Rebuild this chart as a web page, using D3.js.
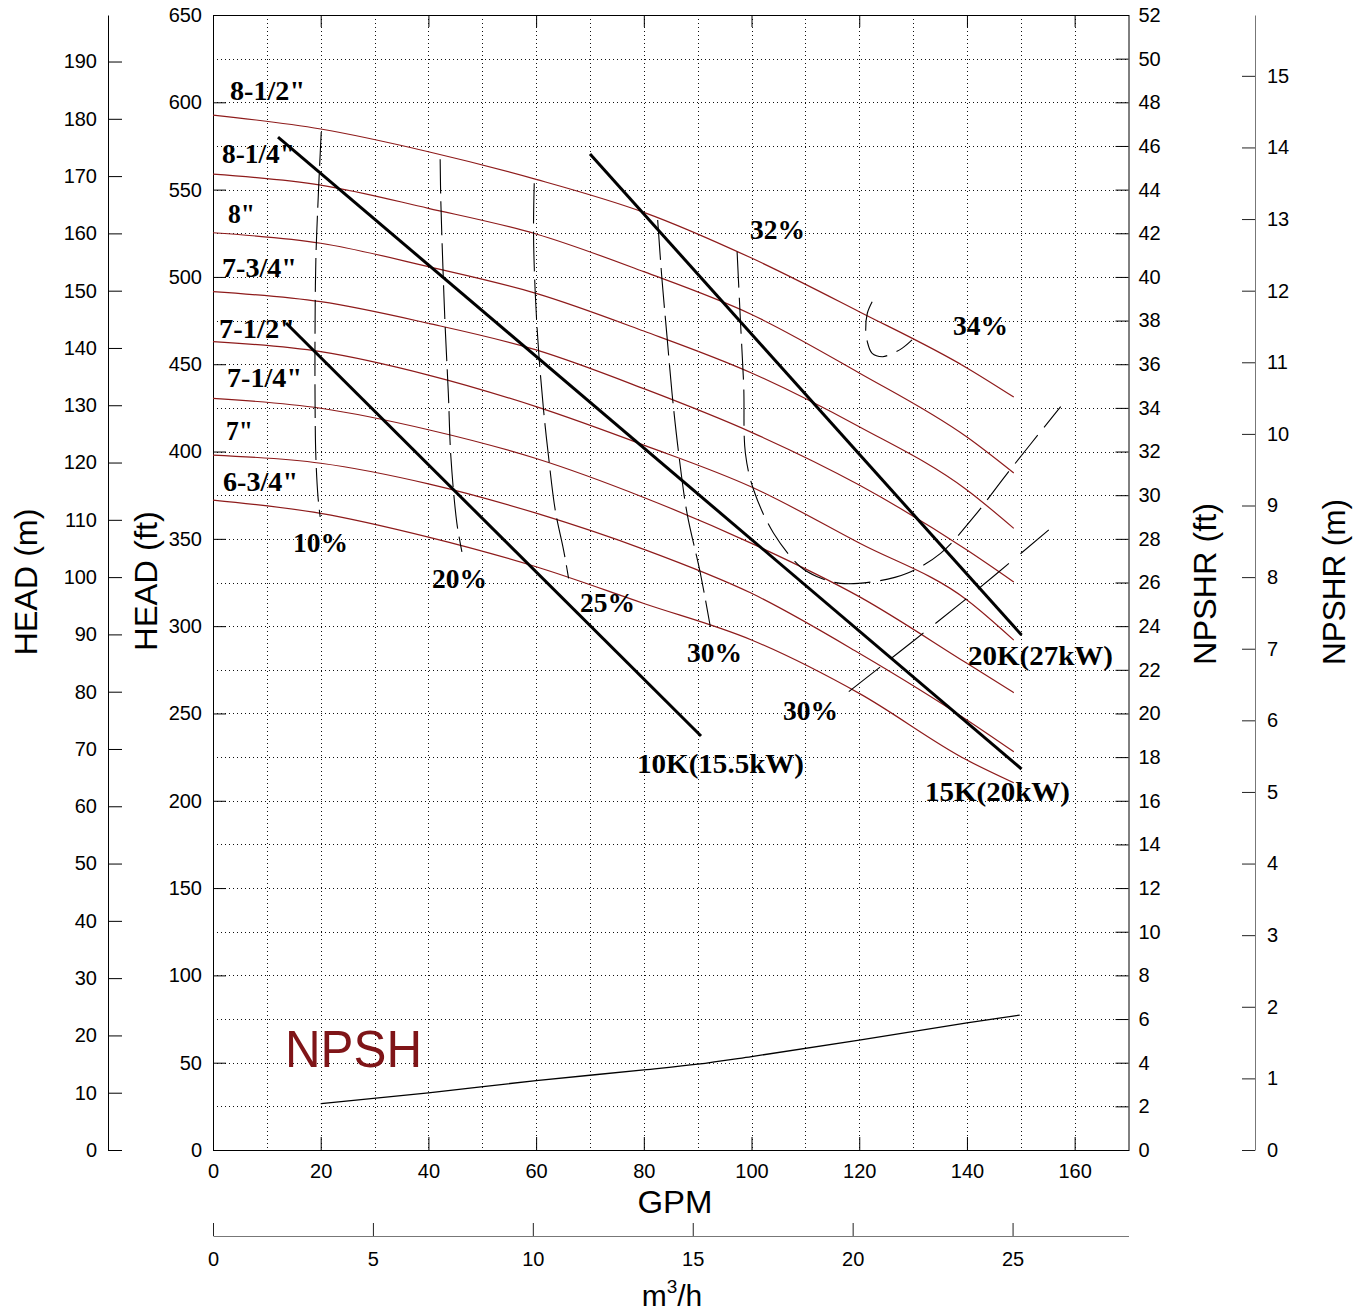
<!DOCTYPE html>
<html>
<head>
<meta charset="utf-8">
<script src="https://cdn.jsdelivr.net/npm/d3@7"></script>
<style>
  html, body { margin: 0; padding: 0; background: #fff; }
  svg { display: block; }
  .tick text { font-family: "Liberation Sans", Arial, sans-serif; font-size: 20px; fill: #000; }
</style>
</head>
<body>
<svg id="chart" width="1361" height="1313"></svg>
<script>
// ---------------- DATA ----------------
const gpmPoints = [0, 20, 40, 60, 80, 100, 120, 140, 148.7];
const impellerNames = ['8-1/2"', '8-1/4"', '8"', '7-3/4"', '7-1/2"', '7-1/4"', '7"', '6-3/4"'];
const head_8_1_2 = [592.7, 584.7, 571.7, 555.9, 537.0, 510.8, 480.1, 447.9, 431.2];
const head_8_1_4 = [558.9, 552.6, 539.3, 524.6, 503.0, 478.5, 445.0, 408.3, 387.7];
const head_8     = [525.3, 519.3, 505.9, 490.6, 469.0, 445.0, 414.2, 378.0, 356.0];
const head_7_3_4 = [491.6, 485.8, 473.4, 458.2, 436.0, 411.0, 380.8, 343.6, 325.3];
const head_7_1_2 = [463.0, 457.2, 443.8, 425.7, 403.7, 379.7, 347.6, 315.0, 292.0];
const head_7_1_4 = [430.5, 424.8, 412.5, 396.0, 373.7, 347.4, 316.9, 278.7, 261.9];
const head_7     = [398.0, 393.3, 381.5, 364.7, 344.0, 318.8, 284.5, 246.3, 228.1];
const head_6_3_4 = [372.2, 364.6, 351.0, 334.0, 313.0, 292.1, 261.5, 223.3, 210.3];
const impellerHeads = [head_8_1_2, head_8_1_4, head_8, head_7_3_4, head_7_1_2, head_7_1_4, head_7, head_6_3_4];
// label anchor (gpm, ft) for impeller names
const impellerLabelPos = [[3.16, 601.3], [1.67, 565.2], [2.79, 530.9], [1.67, 499.9], [1.11, 465.0], [2.60, 436.9], [2.41, 406.6], [1.86, 377.4]];

// motor power lines [gpm, ft]
const powerNames = ["10K(15.5kW)", "15K(20kW)", "20K(27kW)"];
const power10K = [[13.56, 473.6], [90.62, 237.1]];
const power15K = [[12.07, 580.1], [150.14, 218.2]];
const power20K = [[70.01, 570.4], [150.14, 294.9]];
const powerLabelPos = [[78.74, 215.9], [132.2, 199.9], [140.2, 277.8]];

// efficiency iso-lines [gpm, ft]
const eff10 = [[20.1, 583], [19.6, 550], [19.1, 510], [18.95, 470], [18.95, 430], [19.1, 397], [19.5, 374], [19.9, 362.5]];
const eff20 = [[42.18, 567.4], [42.3, 544], [42.69, 505.9], [43.11, 471.5], [43.7, 433.4], [44.17, 397], [45.29, 358.9], [46.22, 342.6]];
const eff25 = [[59.65, 553.6], [59.52, 525], [59.84, 490.6], [60.45, 458.2], [61.38, 423.8], [62.31, 397], [63.55, 366.5], [65.1, 343.6], [66.03, 327.4]];
const eff30a = [[82.57, 532.6], [83.38, 498.2], [84.31, 465.8], [85.24, 433.4], [86.47, 399], [88.03, 364.6], [90.5, 330.3], [92.36, 299.5]];
const eff32 = [[97.32, 514.4], [97.93, 475.4], [98.55, 437.1], [98.86, 399], [100.4, 378], [104.1, 353.2], [109.07, 334], [112.2, 328.3], [116.5, 324.5], [122.7, 325.5], [128.9, 330.3], [135.1, 341.7], [141.3, 362.7], [147.5, 387.5], [157.4, 425.7]];
const eff34 = [[122.4, 485.8], [121.5, 479.2], [121.2, 469.6], [121.5, 462.9], [122.4, 456.2], [124.3, 454.3], [125.5, 455.3], [128.0, 459.2], [129.8, 463.9]];
const eff30b = [[118.06, 262.5], [139.4, 314.5], [155.2, 355.1]];
const effLabels = ["10%", "20%", "25%", "30%", "30%", "32%", "34%"];
const effLabelPos = [[14.86, 342.5], [40.67, 321.9], [68.15, 308.1], [88.02, 279.5], [105.85, 246.3], [99.72, 521.7], [137.42, 466.7]];

// NPSHR curve [gpm, ft of NPSHR]
const npshGpm = [20, 40, 60, 80, 90, 100, 120, 140, 149.8];
const npshFt  = [2.12, 2.62, 3.18, 3.67, 3.93, 4.28, 5.03, 5.82, 6.18];
const npshLabelPos = [13.37, 3.8];

// tick values
const gpmTicks = [0, 20, 40, 60, 80, 100, 120, 140, 160];
const ftTicks = d3.range(0, 651, 50);
const mTicks = d3.range(0, 191, 10);
const npshFtTicks = d3.range(0, 53, 2);
const npshMTicks = d3.range(0, 16, 1);
const m3hTicks = [0, 5, 10, 15, 20, 25];

// ---------------- LAYOUT ----------------
const FT_PER_M = 3.28084;
const L = 213, R = 1128.5, T = 15, B = 1150;
const x = d3.scaleLinear().domain([0, 170]).range([L, R]);
const yFt = d3.scaleLinear().domain([0, 650]).range([B, T]);
const yM = d3.scaleLinear().domain([0, 650 / FT_PER_M]).range([B, T]);
const yNft = d3.scaleLinear().domain([0, 52]).range([B, T]);
const yNm = d3.scaleLinear().domain([0, 52 / FT_PER_M]).range([B, T]);
const xM3 = d3.scaleLinear().domain([0, 28.625]).range([L, R]);

const svg = d3.select("#chart");
const RED = "#8e1b1b";

// grid
const grid = svg.append("g").attr("stroke", "#111").attr("stroke-width", 1).attr("stroke-dasharray", "1,3");
grid.selectAll("line.v").data(d3.range(10, 170, 10)).join("line")
  .attr("x1", d => Math.round(x(d)) + 0.5).attr("x2", d => Math.round(x(d)) + 0.5)
  .attr("y1", T).attr("y2", B);
grid.selectAll("line.h").data(d3.range(25, 650, 25)).join("line")
  .attr("y1", d => Math.round(yFt(d)) + 0.5).attr("y2", d => Math.round(yFt(d)) + 0.5)
  .attr("x1", L).attr("x2", R);

// frame
svg.append("rect").attr("x", L + 0.5).attr("y", T + 0.5).attr("width", R - L).attr("height", B - T)
  .attr("fill", "none").attr("stroke", "#000").attr("stroke-width", 1);

// axes on plot
function styleAxis(g) {
  g.selectAll(".domain").remove();
  g.selectAll(".tick line").attr("stroke", "#000");
}
svg.append("g").attr("transform", `translate(${L},0)`)
  .call(d3.axisLeft(yFt).tickValues(ftTicks).tickSize(-13).tickPadding(11).tickSizeOuter(0))
  .call(styleAxis);
svg.append("g").attr("transform", `translate(${R},0)`)
  .call(d3.axisRight(yNft).tickValues(npshFtTicks).tickSize(-13).tickPadding(10).tickSizeOuter(0))
  .call(styleAxis);
svg.append("g").attr("transform", `translate(0,${B})`)
  .call(d3.axisBottom(x).tickValues(gpmTicks).tickSize(-13).tickPadding(14).tickSizeOuter(0))
  .call(styleAxis);
svg.append("g").attr("transform", `translate(0,${T})`)
  .call(d3.axisTop(x).tickValues(gpmTicks.slice(1)).tickSize(-12).tickFormat("").tickSizeOuter(0))
  .call(styleAxis);

// HEAD (m) axis
svg.append("g").attr("transform", "translate(108,0)")
  .call(d3.axisLeft(yM).tickValues(mTicks).tickSize(-14).tickPadding(11).tickSizeOuter(0))
  .call(g => g.selectAll(".domain").attr("stroke", "#000"));
// NPSHR (m) axis
svg.append("g").attr("transform", "translate(1255,0)")
  .call(d3.axisRight(yNm).tickValues(npshMTicks).tickSize(-13).tickPadding(12).tickSizeOuter(0))
  .call(g => { g.selectAll(".domain").attr("stroke", "#777"); g.selectAll(".tick line").attr("stroke", "#222"); });
// m3/h axis
svg.append("g").attr("transform", "translate(0,1236)")
  .call(d3.axisBottom(xM3).tickValues(m3hTicks).tickSize(-13).tickPadding(16).tickSizeOuter(0))
  .call(g => { g.selectAll(".domain").attr("stroke", "#777"); g.selectAll(".tick line").attr("stroke", "#222"); });

// axis titles
const titleFont = "'Liberation Sans', Arial, sans-serif";
function vTitle(xp, yp, txt, len) {
  svg.append("text").attr("transform", `translate(${xp},${yp}) rotate(-90)`)
    .attr("text-anchor", "middle").attr("font-family", titleFont).attr("font-size", 32)
    .attr("textLength", len).attr("lengthAdjust", "spacingAndGlyphs")
    .text(txt);
}
vTitle(37, 582, "HEAD (m)", 147);
vTitle(157, 581, "HEAD (ft)", 140);
vTitle(1216, 584, "NPSHR (ft)", 162);
vTitle(1345, 582, "NPSHR (m)", 166);
svg.append("text").attr("x", 675).attr("y", 1213).attr("text-anchor", "middle")
  .attr("font-family", titleFont).attr("font-size", 32)
  .attr("textLength", 75).attr("lengthAdjust", "spacingAndGlyphs").text("GPM");
const m3 = svg.append("text").attr("x", 672).attr("y", 1306).attr("text-anchor", "middle")
  .attr("font-family", titleFont).attr("font-size", 30);
m3.append("tspan").text("m");
m3.append("tspan").attr("font-size", 19).attr("dy", -13).text("3");
m3.append("tspan").attr("dy", 13).text("/h");

// impeller curves
const line = d3.line().x(d => x(d[0])).y(d => yFt(d[1])).curve(d3.curveMonotoneX);
svg.append("g").selectAll("path").data(impellerHeads).join("path")
  .attr("d", h => line(gpmPoints.map((g, i) => [g, h[i]])))
  .attr("fill", "none").attr("stroke", RED).attr("stroke-width", 1.2);

// efficiency dashed curves
const effLine = d3.line().x(d => x(d[0])).y(d => yFt(d[1])).curve(d3.curveCatmullRom.alpha(0.5));
const effSets = [
  { d: eff10, dash: "34,8" }, { d: eff20, dash: "34,8" }, { d: eff25, dash: "40,8" },
  { d: eff30a, dash: "40,8" }, { d: eff32, dash: "36,10" }, { d: eff34, dash: "30,10" },
  { d: eff30b, dash: "40,15" }
];
svg.append("g").selectAll("path").data(effSets).join("path")
  .attr("d", s => effLine(s.d)).attr("fill", "none").attr("stroke", "#000")
  .attr("stroke-width", 1.1).attr("stroke-dasharray", s => s.dash);

// power lines
const pLine = d3.line().x(d => x(d[0])).y(d => yFt(d[1]));
svg.append("g").selectAll("path").data([power10K, power15K, power20K]).join("path")
  .attr("d", pLine).attr("fill", "none").attr("stroke", "#000").attr("stroke-width", 3);

// NPSHR curve
const nLine = d3.line().x(d => x(d[0])).y(d => yNft(d[1])).curve(d3.curveMonotoneX);
svg.append("path").attr("d", nLine(npshGpm.map((g, i) => [g, npshFt[i]])))
  .attr("fill", "none").attr("stroke", "#000").attr("stroke-width", 1.3);

// labels (bold serif)
const serif = "'Liberation Serif', 'Times New Roman', serif";
const impLen = [75, 73, 27, 75, 76, 75, 27, 75];
svg.append("g").selectAll("text").data(impellerNames).join("text")
  .attr("x", (d, i) => x(impellerLabelPos[i][0])).attr("y", (d, i) => yFt(impellerLabelPos[i][1]))
  .attr("font-family", serif).attr("font-weight", "bold").attr("font-size", 27)
  .attr("textLength", (d, i) => impLen[i]).attr("lengthAdjust", "spacingAndGlyphs")
  .text(d => d);
svg.append("g").selectAll("text").data(effLabels).join("text")
  .attr("x", (d, i) => x(effLabelPos[i][0])).attr("y", (d, i) => yFt(effLabelPos[i][1]))
  .attr("font-family", serif).attr("font-weight", "bold").attr("font-size", 27)
  .attr("textLength", 55).attr("lengthAdjust", "spacingAndGlyphs")
  .text(d => d);
const powLen = [167, 145, 145];
svg.append("g").selectAll("text").data(powerNames).join("text")
  .attr("x", (d, i) => x(powerLabelPos[i][0])).attr("y", (d, i) => yFt(powerLabelPos[i][1]))
  .attr("font-family", serif).attr("font-weight", "bold").attr("font-size", 27)
  .attr("textLength", (d, i) => powLen[i]).attr("lengthAdjust", "spacingAndGlyphs")
  .text(d => d);

svg.append("text").attr("x", x(npshLabelPos[0])).attr("y", yNft(npshLabelPos[1]))
  .attr("font-family", titleFont).attr("font-size", 52).attr("fill", "#7f1518")
  .attr("textLength", 137).attr("lengthAdjust", "spacingAndGlyphs").text("NPSH");
</script>
</body>
</html>
